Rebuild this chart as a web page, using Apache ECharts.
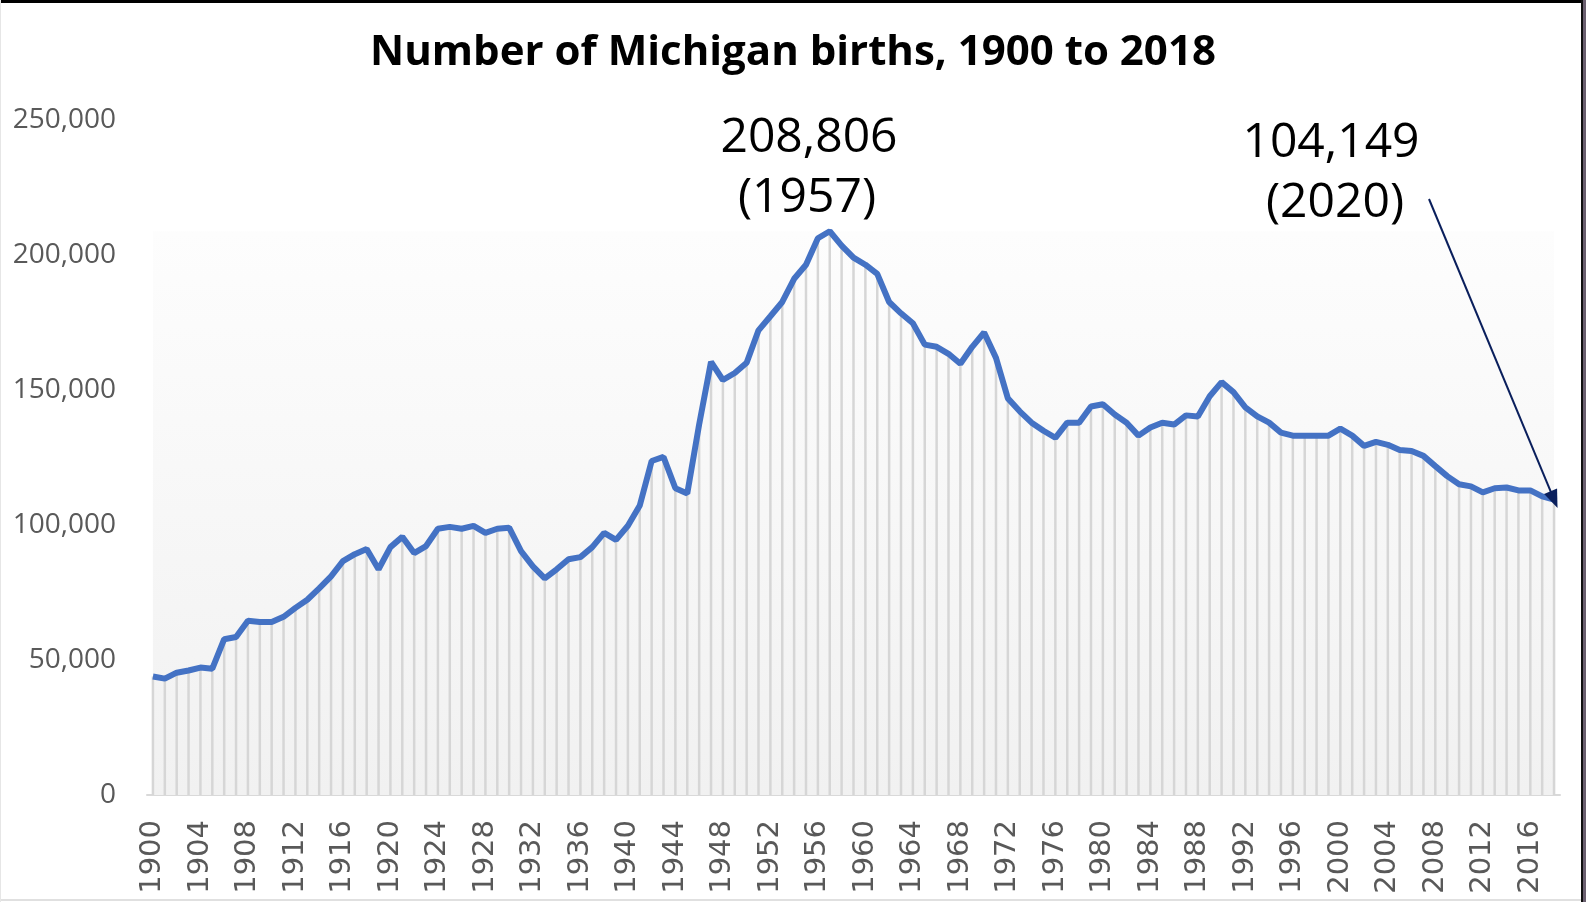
<!DOCTYPE html>
<html>
<head>
<meta charset="utf-8">
<script src="https://cdn.jsdelivr.net/npm/echarts@6/dist/echarts.min.js"></script>
<style>
  html, body { margin: 0; padding: 0; background: #fff; }
  #chart { width: 1586px; height: 902px; }
</style>
</head>
<body>
<div id="chart"></div>
<script>
// years 1900..2018
const years = [];
for (let y = 1900; y <= 2018; y++) years.push(String(y));

// births
const births = [
  43900, 43100, 45300, 46100, 47200, 46800, 57700, 58500, 64500, 64100,
  64100, 66000, 69300, 72300, 76500, 81000, 86600, 89200, 91100, 83600,
  91800, 95600, 89600, 92200, 98600, 99300, 98600, 99700, 97100, 98600,
  99000, 90300, 84700, 80200, 83600, 87300, 88100, 91800, 97100, 94500,
  99700, 107200, 123700, 125200, 113600, 111700, 137200, 160400, 153700, 156300,
  160100, 172100, 177300, 182600, 191200, 196400, 206200, 208806, 203500, 199000,
  196400, 193000, 182600, 178400, 174700, 166800, 166000, 163400, 159700, 166000,
  171300, 161900, 146900, 142100, 137900, 134900, 132300, 137900, 137900, 143900,
  144700, 140900, 137900, 133100, 136100, 137900, 137200, 140600, 140200, 147700,
  152900, 149200, 143600, 140200, 137900, 134200, 133100, 133100, 133100, 133100,
  135700, 133100, 129300, 130800, 129700, 127800, 127400, 125600, 121800, 118100,
  115100, 114300, 112100, 113600, 113900, 112800, 112800, 110600, 109400
];

const yTicks = [0, 50000, 100000, 150000, 200000, 250000];
const peakNote = ['208,806', '(1957)'];
const latestNote = ['104,149', '(2020)'];

const chart = echarts.init(document.getElementById('chart'));

const fmt = v => v.toLocaleString('en-US');
const noteFont = '48px "Open Sans"';
const note = (text, x, y) => ({
  type: 'text', x: x, y: y, z: 10,
  style: { text: text, align: 'center', verticalAlign: 'middle', font: noteFont, fill: '#000' }
});

chart.setOption({
  animation: false,
  backgroundColor: '#fff',
  title: {
    text: 'Number of Michigan births, 1900 to 2018',
    left: 'center',
    top: 27,
    textStyle: {
      fontFamily: '"Open Sans", sans-serif',
      fontWeight: 'bold',
      fontSize: 42,
      color: '#000'
    }
  },
  grid: { left: 147, right: 26, top: 120, bottom: 107, containLabel: false },
  xAxis: {
    type: 'category',
    data: years,
    boundaryGap: true,
    axisLine: { lineStyle: { color: '#d9d9d9', width: 2 } },
    axisTick: { show: false },
    axisLabel: {
      interval: 3,
      rotate: 90,
      margin: 25,
      color: '#595959',
      fontFamily: '"DejaVu Sans", sans-serif',
      fontSize: 29
    },
    splitLine: { show: false }
  },
  yAxis: {
    type: 'value',
    min: yTicks[0],
    max: yTicks[yTicks.length - 1],
    interval: 50000,
    axisLine: { show: false },
    axisTick: { show: false },
    splitLine: { show: false },
    axisLabel: {
      margin: 31,
      color: '#595959',
      fontFamily: '"Open Sans", sans-serif',
      fontSize: 28,
      formatter: v => fmt(v)
    }
  },
  series: [
    {
      // drop lines
      type: 'bar',
      data: births,
      barWidth: 2.5,
      itemStyle: { color: '#d6d6d6' },
      z: 2,
      silent: true
    },
    {
      type: 'line',
      data: births,
      symbol: 'none',
      lineStyle: { color: '#4472C4', width: 6 },
      z: 4,
      markArea: {
        silent: true,
        itemStyle: {
          color: new echarts.graphic.LinearGradient(0, 0, 0, 1, [
            { offset: 0, color: '#fdfdfd' },
            { offset: 1, color: '#f1f1f1' }
          ])
        },
        data: [[{ yAxis: 0, xAxis: years[0] }, { yAxis: 208806, xAxis: years[years.length - 1] }]]
      },
      markLine: {
        silent: true,
        symbol: ['none', 'triangle'],
        symbolSize: [14, 18],
        label: { show: false },
        lineStyle: { color: '#0a1f5c', width: 2, type: 'solid' },
        data: [[{ x: 1429, y: 199 }, { coord: [years[years.length - 1], births[births.length - 1]] }]]
      }
    }
  ],
  graphic: [
    note(peakNote[0], 809, 138),
    note(peakNote[1], 807, 198),
    note(latestNote[0], 1331, 143),
    note(latestNote[1], 1335, 203),
    // frame
    { type: 'rect', left: 0, top: 0, shape: { width: 1586, height: 3 }, style: { fill: '#000' } },
    { type: 'rect', left: 1581, top: 0, shape: { width: 2, height: 902 }, style: { fill: '#111' } },
    { type: 'rect', left: 1583, top: 0, shape: { width: 3, height: 902 }, style: { fill: '#6b6070' } },
    { type: 'rect', left: 0, top: 899, shape: { width: 1581, height: 2 }, style: { fill: '#e0e0e0' } },
    { type: 'rect', left: 0, top: 0, shape: { width: 1, height: 902 }, style: { fill: '#e6e6e6' } }
  ]
});
</script>
</body>
</html>
